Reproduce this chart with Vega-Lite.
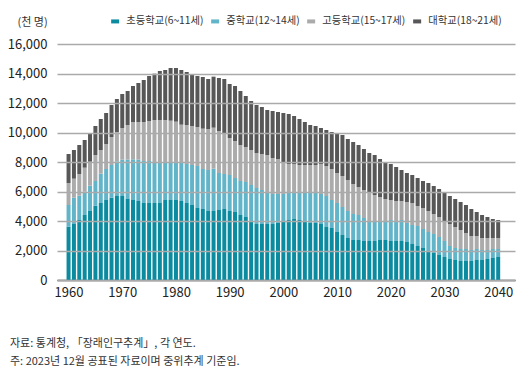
{
  "$schema": "https://vega.github.io/schema/vega-lite/v6.json",
  "autosize": {"type": "none"},
  "padding": {"left": 57, "top": 44, "right": 12, "bottom": 95},
  "width": 458,
  "height": 236,
  "background": "white",
  "config": {
    "view": {"stroke": null},
    "font": "Noto Sans CJK KR"
  },
  "title": {
    "text": ["자료: 통계청, 「장래인구추계」, 각 연도.", "주: 2023년 12월 공표된 자료이며 중위추계 기준임."],
    "orient": "bottom",
    "anchor": "start",
    "frame": "group",
    "dx": -47,
    "offset": 39,
    "fontSize": 11,
    "fontWeight": "normal",
    "lineHeight": 18,
    "color": "#333333",
    "font": "Noto Sans CJK KR"
  },
  "data": {
    "values": [
      {"year":1960,"s1":3616,"s2":1469,"s3":1492,"s4":1966},
      {"year":1961,"s1":3797,"s2":1785,"s3":1288,"s4":1944},
      {"year":1962,"s1":4068,"s2":1650,"s3":1469,"s4":1966},
      {"year":1963,"s1":4407,"s2":1582,"s3":1627,"s4":1876},
      {"year":1964,"s1":4678,"s2":1718,"s3":1627,"s4":1876},
      {"year":1965,"s1":5040,"s2":1672,"s3":1763,"s4":1966},
      {"year":1966,"s1":5221,"s2":1989,"s3":1605,"s4":2102},
      {"year":1967,"s1":5424,"s2":2102,"s3":1695,"s4":2102},
      {"year":1968,"s1":5582,"s2":2215,"s3":1898,"s4":2170},
      {"year":1969,"s1":5695,"s2":2350,"s3":1989,"s4":2237},
      {"year":1970,"s1":5695,"s2":2463,"s3":2147,"s4":2305},
      {"year":1971,"s1":5492,"s2":2667,"s3":2350,"s4":2305},
      {"year":1972,"s1":5424,"s2":2757,"s3":2531,"s4":2441},
      {"year":1973,"s1":5356,"s2":2802,"s3":2554,"s4":2644},
      {"year":1974,"s1":5221,"s2":2848,"s3":2644,"s4":2848},
      {"year":1975,"s1":5221,"s2":2848,"s3":2712,"s4":3051},
      {"year":1976,"s1":5221,"s2":2712,"s3":2915,"s4":3141},
      {"year":1977,"s1":5221,"s2":2712,"s3":2915,"s4":3322},
      {"year":1978,"s1":5424,"s2":2509,"s3":2915,"s4":3390},
      {"year":1979,"s1":5424,"s2":2509,"s3":2870,"s4":3571},
      {"year":1980,"s1":5424,"s2":2509,"s3":2802,"s4":3639},
      {"year":1981,"s1":5356,"s2":2576,"s3":2599,"s4":3706},
      {"year":1982,"s1":5221,"s2":2644,"s3":2644,"s4":3593},
      {"year":1983,"s1":5085,"s2":2712,"s3":2644,"s4":3458},
      {"year":1984,"s1":4882,"s2":2848,"s3":2644,"s4":3458},
      {"year":1985,"s1":4814,"s2":2712,"s3":2735,"s4":3503},
      {"year":1986,"s1":4678,"s2":2780,"s3":2780,"s4":3390},
      {"year":1987,"s1":4678,"s2":2870,"s3":2780,"s4":3458},
      {"year":1988,"s1":4746,"s2":2509,"s3":2848,"s4":3593},
      {"year":1989,"s1":4814,"s2":2373,"s3":2712,"s4":3729},
      {"year":1990,"s1":4678,"s2":2441,"s3":2509,"s4":3661},
      {"year":1991,"s1":4610,"s2":2305,"s3":2509,"s4":3729},
      {"year":1992,"s1":4407,"s2":2305,"s3":2441,"s4":3661},
      {"year":1993,"s1":4271,"s2":2373,"s3":2373,"s4":3458},
      {"year":1994,"s1":4000,"s2":2441,"s3":2373,"s4":3322},
      {"year":1995,"s1":3797,"s2":2441,"s3":2373,"s4":3254},
      {"year":1996,"s1":3797,"s2":2305,"s3":2441,"s4":3187},
      {"year":1997,"s1":3797,"s2":2170,"s3":2509,"s4":3051},
      {"year":1998,"s1":3797,"s2":2034,"s3":2441,"s4":3187},
      {"year":1999,"s1":3865,"s2":1966,"s3":2373,"s4":3187},
      {"year":2000,"s1":4000,"s2":1831,"s3":2170,"s4":3322},
      {"year":2001,"s1":4068,"s2":1898,"s3":1898,"s4":3390},
      {"year":2002,"s1":4136,"s2":1831,"s3":1898,"s4":3254},
      {"year":2003,"s1":4068,"s2":1898,"s3":1831,"s4":3119},
      {"year":2004,"s1":4000,"s2":1966,"s3":1831,"s4":2915},
      {"year":2005,"s1":3865,"s2":2102,"s3":1831,"s4":2712},
      {"year":2006,"s1":3865,"s2":2102,"s3":1831,"s4":2644},
      {"year":2007,"s1":3797,"s2":2034,"s3":2034,"s4":2441},
      {"year":2008,"s1":3593,"s2":2102,"s3":2034,"s4":2441},
      {"year":2009,"s1":3526,"s2":1898,"s3":2102,"s4":2509},
      {"year":2010,"s1":3254,"s2":1966,"s3":2034,"s4":2644},
      {"year":2011,"s1":3051,"s2":1898,"s3":2102,"s4":2780},
      {"year":2012,"s1":2848,"s2":1831,"s3":2102,"s4":2780},
      {"year":2013,"s1":2712,"s2":1763,"s3":2034,"s4":2848},
      {"year":2014,"s1":2712,"s2":1695,"s3":1898,"s4":2848},
      {"year":2015,"s1":2644,"s2":1559,"s3":1898,"s4":2780},
      {"year":2016,"s1":2644,"s2":1356,"s3":1898,"s4":2712},
      {"year":2017,"s1":2644,"s2":1356,"s3":1763,"s4":2712},
      {"year":2018,"s1":2712,"s2":1220,"s3":1695,"s4":2576},
      {"year":2019,"s1":2712,"s2":1220,"s3":1559,"s4":2509},
      {"year":2020,"s1":2644,"s2":1424,"s3":1356,"s4":2441},
      {"year":2021,"s1":2644,"s2":1356,"s3":1356,"s4":2305},
      {"year":2022,"s1":2644,"s2":1424,"s3":1288,"s4":2102},
      {"year":2023,"s1":2576,"s2":1288,"s3":1424,"s4":1966},
      {"year":2024,"s1":2441,"s2":1288,"s3":1492,"s4":1898},
      {"year":2025,"s1":2305,"s2":1356,"s3":1356,"s4":1898},
      {"year":2026,"s1":2170,"s2":1288,"s3":1424,"s4":1831},
      {"year":2027,"s1":1966,"s2":1288,"s3":1424,"s4":1898},
      {"year":2028,"s1":1831,"s2":1288,"s3":1356,"s4":1898},
      {"year":2029,"s1":1695,"s2":1220,"s3":1356,"s4":1898},
      {"year":2030,"s1":1559,"s2":1085,"s3":1356,"s4":1966},
      {"year":2031,"s1":1424,"s2":881,"s3":1492,"s4":1898},
      {"year":2032,"s1":1356,"s2":814,"s3":1424,"s4":1898},
      {"year":2033,"s1":1288,"s2":814,"s3":1288,"s4":1898},
      {"year":2034,"s1":1288,"s2":814,"s3":1085,"s4":1898},
      {"year":2035,"s1":1288,"s2":746,"s3":949,"s4":1831},
      {"year":2036,"s1":1356,"s2":746,"s3":881,"s4":1627},
      {"year":2037,"s1":1356,"s2":678,"s3":814,"s4":1559},
      {"year":2038,"s1":1424,"s2":610,"s3":814,"s4":1424},
      {"year":2039,"s1":1492,"s2":610,"s3":746,"s4":1288},
      {"year":2040,"s1":1559,"s2":542,"s3":746,"s4":1220}
    ]
  },
  "transform": [
    {"fold": ["s1", "s2", "s3", "s4"], "as": ["group", "value"]}
  ],
  "mark": {"type": "bar", "size": 4},
  "encoding": {
    "x": {
      "field": "year",
      "type": "quantitative",
      "scale": {"domain": [1958.78, 2042.2], "nice": false, "zero": false},
      "axis": {
        "values": [1960, 1970, 1980, 1990, 2000, 2010, 2020, 2030, 2040],
        "format": "d",
        "title": null,
        "grid": false,
        "ticks": false,
        "tickSize": 0,
        "labelPadding": 6,
        "labelFontSize": 13,
        "labelColor": "#222222",
        "labelFont": "Noto Sans CJK KR",
        "domainColor": "#222222",
        "domainWidth": 1.5,
        "labelFlush": false
      }
    },
    "y": {
      "field": "value",
      "type": "quantitative",
      "stack": "zero",
      "scale": {"domain": [0, 16000], "nice": false},
      "axis": {
        "values": [0, 2000, 4000, 6000, 8000, 10000, 12000, 14000, 16000],
        "format": ",d",
        "title": "(천 명)",
        "titleAngle": 0,
        "titleX": -40,
        "titleY": -22,
        "titleAlign": "left",
        "titleBaseline": "middle",
        "titleFontSize": 11,
        "titleFontWeight": "normal",
        "titleColor": "#333333",
        "grid": true,
        "gridColor": "#aaaaaa",
        "gridWidth": 1.5,
        "domain": false,
        "ticks": false,
        "tickSize": 0,
        "labelPadding": 10,
        "labelFontSize": 13,
        "labelColor": "#222222",
        "zindex": 1
      }
    },
    "color": {
      "field": "group",
      "type": "nominal",
      "scale": {
        "domain": ["s1", "s2", "s3", "s4"],
        "range": ["#0b8ba0", "#62b4c9", "#ababab", "#575757"]
      },
      "legend": {
        "orient": "none",
        "legendX": 53,
        "legendY": -28,
        "direction": "horizontal",
        "title": null,
        "symbolType": "M-1,-0.5H1V0.5H-1Z",
        "symbolSize": 64,
        "symbolStrokeWidth": 0,
        "labelFontSize": 10.3,
        "labelColor": "#333333",
        "labelOffset": 6,
        "columnPadding": 6,
        "labelExpr": "datum.label == 's1' ? '초등학교(6~11세)' : datum.label == 's2' ? '중학교(12~14세)' : datum.label == 's3' ? '고등학교(15~17세)' : '대학교(18~21세)'"
      }
    },
    "order": {"field": "group", "type": "nominal", "sort": "ascending"}
  }
}
